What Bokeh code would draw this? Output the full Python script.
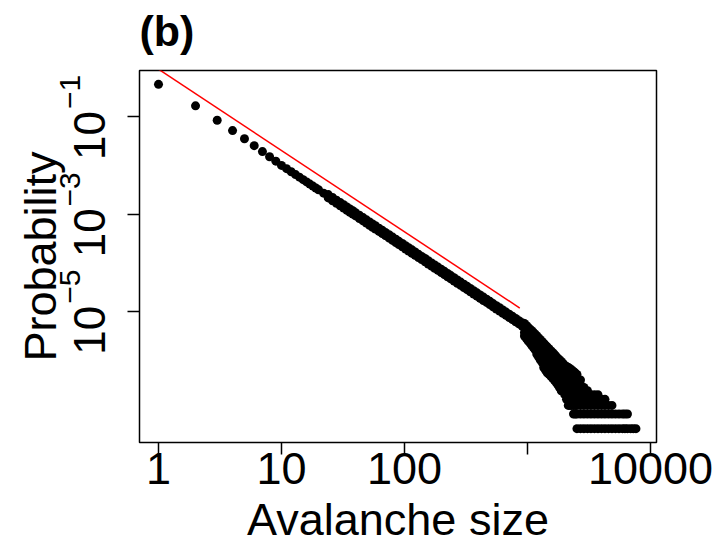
import math
from bokeh.plotting import figure
from bokeh.models import Range1d, FixedTicker, LogAxis, LogScale, Title
from bokeh.embed import file_html
from bokeh.resources import INLINE

FONT = "Liberation Sans"

# ---------------- data ----------------
head_sizes = [1, 2, 3, 4, 5, 6, 7, 8, 9]
head_probs = [0.462, 0.167, 0.0845, 0.0519, 0.0352, 0.0254, 0.0192, 0.0150, 0.0122]

body_sizes = [10, 11, 12, 13, 14, 15, 16, 17, 18, 19, 20, 22, 24, 26, 28, 30, 32, 34,
              36, 38, 40, 43, 46, 49, 52, 55, 58, 62, 66, 70, 75, 80, 85, 90, 96, 102,
              108, 115, 122, 130, 138, 147, 156, 166, 176, 187, 199, 211, 224, 238,
              253, 269, 286, 304, 323, 343, 365, 388, 412, 438, 465, 494, 525, 558,
              593, 630, 669, 711, 755, 802, 852, 905]
body_probs = [1.00e-2, 8.55e-3, 7.40e-3, 6.47e-3, 5.72e-3, 5.09e-3, 4.57e-3, 4.13e-3,
              3.76e-3, 3.43e-3, 3.15e-3, 2.69e-3, 2.32e-3, 2.03e-3, 1.79e-3, 1.60e-3,
              1.44e-3, 1.30e-3, 1.18e-3, 1.08e-3, 9.89e-4, 8.77e-4, 7.83e-4, 7.05e-4,
              6.38e-4, 5.81e-4, 5.32e-4, 4.76e-4, 4.29e-4, 3.89e-4, 3.47e-4, 3.11e-4,
              2.81e-4, 2.55e-4, 2.30e-4, 2.07e-4, 1.88e-4, 1.70e-4, 1.54e-4, 1.38e-4,
              1.25e-4, 1.13e-4, 1.02e-4, 9.19e-5, 8.34e-5, 7.54e-5, 6.79e-5, 6.16e-5,
              5.57e-5, 5.04e-5, 4.55e-5, 4.10e-5, 3.71e-5, 3.35e-5, 3.03e-5, 2.74e-5,
              2.47e-5, 2.23e-5, 2.01e-5, 1.82e-5, 1.65e-5, 1.49e-5, 1.34e-5, 1.21e-5,
              1.10e-5, 9.91e-6, 8.97e-6, 8.10e-6, 7.33e-6, 6.62e-6, 5.99e-6, 5.41e-6]

# upper and lower edge of the band's scatter (sizes 24 .. 905)
spread_sizes = [24, 26, 28, 30, 32, 34, 36, 38, 40, 43, 46, 49, 52, 55, 58, 62, 66, 70,
                75, 80, 85, 90, 96, 102, 108, 115, 122, 130, 138, 147, 156, 166, 176,
                187, 199, 211, 224, 238, 253, 269, 286, 304, 323, 343, 365, 388, 412,
                438, 465, 494, 525, 558, 593, 630, 669, 711, 755, 802, 852, 905]
spread_hi = [2.51e-3, 2.19e-3, 1.93e-3, 1.73e-3, 1.56e-3, 1.40e-3, 1.27e-3, 1.17e-3,
             1.07e-3, 9.47e-4, 8.46e-4, 7.61e-4, 6.89e-4, 6.27e-4, 5.75e-4, 5.14e-4,
             4.63e-4, 4.20e-4, 3.75e-4, 3.36e-4, 3.03e-4, 2.75e-4, 2.48e-4, 2.24e-4,
             2.03e-4, 1.84e-4, 1.66e-4, 1.49e-4, 1.35e-4, 1.22e-4, 1.10e-4, 9.93e-5,
             9.01e-5, 8.14e-5, 7.33e-5, 6.65e-5, 6.02e-5, 5.44e-5, 4.91e-5, 4.43e-5,
             4.01e-5, 3.62e-5, 3.27e-5, 2.96e-5, 2.67e-5, 2.41e-5, 2.17e-5, 1.97e-5,
             1.78e-5, 1.61e-5, 1.45e-5, 1.31e-5, 1.19e-5, 1.07e-5, 9.69e-6, 8.75e-6,
             7.92e-6, 7.15e-6, 6.47e-6, 5.84e-6]
spread_lo = [2.15e-3, 1.88e-3, 1.66e-3, 1.48e-3, 1.33e-3, 1.20e-3, 1.09e-3, 9.99e-4,
             9.15e-4, 8.11e-4, 7.24e-4, 6.52e-4, 5.90e-4, 5.37e-4, 4.92e-4, 4.40e-4,
             3.97e-4, 3.60e-4, 3.21e-4, 2.88e-4, 2.60e-4, 2.36e-4, 2.13e-4, 1.91e-4,
             1.74e-4, 1.57e-4, 1.42e-4, 1.28e-4, 1.16e-4, 1.05e-4, 9.44e-5, 8.50e-5,
             7.71e-5, 6.97e-5, 6.28e-5, 5.70e-5, 5.15e-5, 4.66e-5, 4.21e-5, 3.79e-5,
             3.43e-5, 3.10e-5, 2.80e-5, 2.53e-5, 2.28e-5, 2.06e-5, 1.86e-5, 1.68e-5,
             1.53e-5, 1.38e-5, 1.24e-5, 1.12e-5, 1.02e-5, 9.17e-6, 8.30e-6, 7.49e-6,
             6.78e-6, 6.12e-6, 5.54e-6, 5.00e-6]

# tail: avalanche sizes and the observed counts at each size
tail_sizes = [945, 977, 1010, 1044, 1078, 1114, 1151, 1189, 1228, 1269, 1312, 1355,
              1400, 1447, 1496, 1546, 1597, 1651, 1706, 1763, 1821, 1882, 1945, 2010,
              2077, 2146, 2217, 2291, 2367, 2445, 2525, 2697, 2878, 3074, 3281, 3505,
              3743, 3998, 4266, 4560, 4864, 5193, 5545, 5918, 6200, 6500, 6900, 7250,
              7620]
tail_counts = [
    [145, 118, 95, 80],
    [132, 108, 88, 72],
    [122, 100, 80, 64],
    [112, 92, 74, 58],
    [104, 85, 68, 52],
    [96, 77, 61, 47],
    [88, 70, 55, 42],
    [81, 64, 50, 40, 34],
    [74, 58, 46, 37, 30],
    [68, 53, 42, 33, 26],
    [62, 48, 38, 29, 23],
    [57, 44, 35, 27, 21, 18],
    [52, 40, 31, 24, 19, 16],
    [48, 37, 28, 22, 17, 14],
    [44, 34, 26, 20, 15, 13],
    [40, 31, 24, 18, 14, 12],
    [37, 29, 22, 17, 13, 11],
    [34, 26, 20, 15, 12, 10],
    [31, 24, 18, 14, 11, 9],
    [28, 22, 16, 13, 10, 8],
    [26, 20, 15, 12, 9, 7],
    [24, 18, 14, 11, 8, 6],
    [22, 17, 13, 10, 8, 6],
    [20, 15, 12, 9, 7, 5],
    [19, 14, 11, 8, 6, 5, 4],
    [18, 14, 11, 9, 7, 5, 4, 3],
    [17, 13, 10, 8, 6, 5, 4, 3],
    [16, 12, 9, 7, 6, 5, 4, 3],
    [15, 12, 10, 8, 7, 6, 5, 4, 3, 2],
    [14, 11, 9, 7, 6, 5, 4, 3, 2],
    [13, 11, 9, 7, 6, 5, 4, 3, 2, 1],
    [10, 8, 7, 6, 5, 4, 3, 2, 1],
    [7, 6, 5, 4, 3, 2, 1],
    [6, 5, 4, 3, 2, 1],
    [5, 4, 3, 2, 1],
    [5, 4, 3, 2, 1],
    [5, 4, 3, 2, 1],
    [4, 3, 2, 1],
    [4, 3, 2, 1],
    [3, 2, 1],
    [3, 2, 1],
    [2, 1],
    [2, 1],
    [2, 1],
    [2, 1],
    [2, 1],
    [1],
    [1],
    [1],
]
n_avalanches = 25_600_000

fit_sizes = [1, 866]
fit_probs = [0.946, 1.175e-5]

x_ticks = [1, 10, 100, 1000, 10000]
x_tick_labels = ["1", "10", "100", "", "10000"]
y_ticks = [1e-1, 1e-3, 1e-5]
y_tick_bases = ["10", "10", "10"]
y_tick_exponents = ["\u22121", "\u22123", "\u22125"]

x_limits = (0.7006, 11194)
y_limits = (2.03e-8, 0.889)

# ---------------- layout constants ----------------
W, H = 720, 547
BORDER_L, BORDER_R, BORDER_T, BORDER_B = 139, 64, 70, 101
frame_h = H - BORDER_T - BORDER_B
px_per_decade = frame_h / math.log10(y_limits[1] / y_limits[0])
# the "10" part sits a little below the tick, the exponent above it (R plotmath style)
base_shift = 10 ** (19.0 / px_per_decade)
exp_shift = 10 ** (-25.0 / px_per_decade)

# ---------------- assemble ----------------
xs = list(head_sizes) + list(body_sizes) + list(spread_sizes) + list(spread_sizes)
ys = list(head_probs) + list(body_probs) + list(spread_hi) + list(spread_lo)
for s, counts in zip(tail_sizes, tail_counts):
    for c in counts:
        xs.append(s)
        ys.append(c / n_avalanches)

p = figure(width=W, height=H, x_axis_type="log", y_axis_type="log",
           x_range=Range1d(*x_limits), y_range=Range1d(*y_limits),
           output_backend="svg", toolbar_location=None, title=None,
           min_border_left=BORDER_L, min_border_right=BORDER_R,
           min_border_top=BORDER_T, min_border_bottom=BORDER_B)

p.background_fill_color = "white"
p.border_fill_color = "white"
p.outline_line_color = "black"
p.outline_line_width = 1.5
p.xgrid.visible = False
p.ygrid.visible = False

p.scatter(xs, ys, size=9, fill_color="black", line_color=None)
p.line(fit_sizes, fit_probs, line_color="#ff0000", line_width=1.5)

# title: a thin blank title next to the frame keeps the gap above the box
p.add_layout(Title(text=" ", text_font=FONT, text_font_size="12px", standoff=0), "above")
p.add_layout(Title(text="(b)", text_font=FONT, text_font_size="43px",
                   text_font_style="bold", text_color="black", align="left",
                   standoff=0), "above")

# x axis
xa = p.xaxis[0]
xa.ticker = FixedTicker(ticks=x_ticks, minor_ticks=[])
xa.major_label_overrides = {t: lab for t, lab in zip(x_ticks, x_tick_labels)}
xa.axis_line_color = None
xa.major_tick_in = 0
xa.major_tick_out = 12
xa.major_tick_line_width = 1.5
xa.major_tick_line_color = "black"
xa.minor_tick_line_color = None
xa.major_label_text_font = FONT
xa.major_label_text_font_size = "45px"
xa.major_label_text_color = "black"
xa.major_label_standoff = -2
xa.axis_label = "Avalanche size"
xa.axis_label_text_font = FONT
xa.axis_label_text_font_size = "45px"
xa.axis_label_text_font_style = "normal"
xa.axis_label_text_color = "black"
xa.axis_label_standoff = 7

# y axis: ticks only
ya = p.yaxis[0]
ya.ticker = FixedTicker(ticks=y_ticks, minor_ticks=[])
ya.major_label_overrides = {t: "" for t in y_ticks}
ya.axis_line_color = None
ya.major_tick_in = 0
ya.major_tick_out = 12
ya.major_tick_line_width = 1.5
ya.major_tick_line_color = "black"
ya.minor_tick_line_color = None
ya.major_label_standoff = 0

# y tick labels: "10" and its exponent on two label-only axes
p.extra_y_ranges = {
    "base": Range1d(y_limits[0] * base_shift, y_limits[1] * base_shift),
    "exp": Range1d(y_limits[0] * exp_shift, y_limits[1] * exp_shift),
}
p.extra_y_scales = {"base": LogScale(), "exp": LogScale()}


def label_axis(range_name, labels, size, standoff):
    ax = LogAxis(y_range_name=range_name,
                 ticker=FixedTicker(ticks=y_ticks, minor_ticks=[]),
                 major_label_overrides={t: lab for t, lab in zip(y_ticks, labels)})
    ax.axis_line_color = None
    ax.major_tick_line_color = None
    ax.minor_tick_line_color = None
    ax.major_tick_in = 0
    ax.major_tick_out = 0
    ax.major_label_orientation = "vertical"
    ax.major_label_text_font = FONT
    ax.major_label_text_font_size = size
    ax.major_label_text_color = "black"
    ax.major_label_standoff = standoff
    return ax


base_axis = label_axis("base", y_tick_bases, "44px", 22)
exp_axis = label_axis("exp", y_tick_exponents, "30px", -9)
exp_axis.axis_label = "Probability"
exp_axis.axis_label_text_font = FONT
exp_axis.axis_label_text_font_size = "45px"
exp_axis.axis_label_text_font_style = "normal"
exp_axis.axis_label_text_color = "black"
exp_axis.axis_label_standoff = -8
p.add_layout(base_axis, "left")
p.add_layout(exp_axis, "left")

open("out.html", "w").write(file_html(p, INLINE))
